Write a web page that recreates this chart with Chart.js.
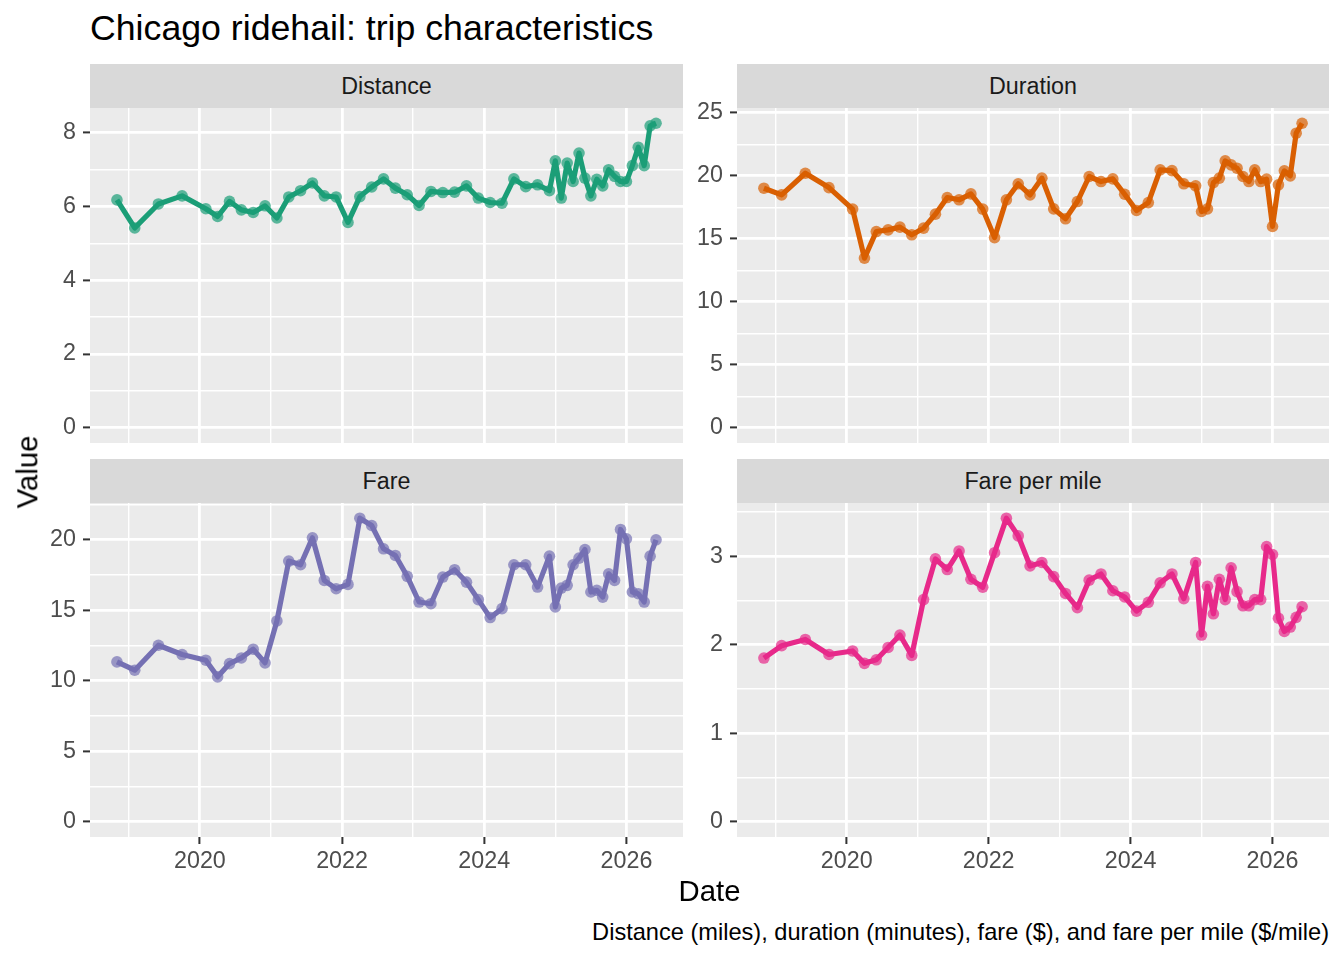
<!DOCTYPE html>
<html>
<head>
<meta charset="utf-8">
<title>Chicago ridehail: trip characteristics</title>
<script src="https://cdn.jsdelivr.net/npm/chart.js@4.4.1/dist/chart.umd.min.js"></script>
<style>
  html, body { margin: 0; padding: 0; background: #ffffff; }
  body { width: 1344px; height: 960px; position: relative; overflow: hidden;
         font-family: 'Liberation Sans', Arial, sans-serif; }
  .abs { position: absolute; }
  .strip { background: #D9D9D9; color: #1A1A1A; font-size: 23.3px; text-align: center;
           height: 44px; line-height: 44px; }
  .title { left: 90px; top: 11px; font-size: 35.7px; line-height: 35.7px; color: #000; white-space: nowrap; }
  .xtitle { left: 90px; width: 1239px; top: 876px; font-size: 29.3px; line-height: 29.3px; text-align: center; }
  .ytitle { left: 27px; top: 472px; font-size: 29.3px; line-height: 29.3px; white-space: nowrap;
            transform: translate(-50%, -50%) rotate(-90deg); }
  .caption { right: 15px; top: 921px; font-size: 23.6px; line-height: 23.6px; white-space: nowrap; }
</style>
</head>
<body>
<div class="abs title">Chicago ridehail: trip characteristics</div>

<div class="abs" style="left:30px; top:88px; width:653px; height:355px;"><canvas id="distanceChart"></canvas></div>
<div class="abs" style="left:677px; top:88px; width:652px; height:355px;"><canvas id="durationChart"></canvas></div>
<div class="abs" style="left:30px; top:483px; width:653px; height:399px;"><canvas id="fareChart"></canvas></div>
<div class="abs" style="left:677px; top:483px; width:652px; height:399px;"><canvas id="fpmChart"></canvas></div>

<div class="abs strip" id="strip0" style="left:90px; top:64px; width:593px;"></div>
<div class="abs strip" id="strip1" style="left:737px; top:64px; width:592px;"></div>
<div class="abs strip" id="strip2" style="left:90px; top:459px; width:593px;"></div>
<div class="abs strip" id="strip3" style="left:737px; top:459px; width:592px;"></div>

<div class="abs ytitle">Value</div>
<div class="abs xtitle">Date</div>
<div class="abs caption">Distance (miles), duration (minutes), fare ($), and fare per mile ($/mile)</div>

<script>
const months = [
  '2018-11', '2019-02', '2019-06', '2019-10',
  '2020-02', '2020-04', '2020-06', '2020-08', '2020-10', '2020-12',
  '2021-02', '2021-04', '2021-06', '2021-08', '2021-10', '2021-12',
  '2022-02', '2022-04', '2022-06', '2022-08', '2022-10', '2022-12',
  '2023-02', '2023-04', '2023-06', '2023-08', '2023-10', '2023-12',
  '2024-02', '2024-04', '2024-06', '2024-08', '2024-10', '2024-12',
  '2025-01', '2025-02', '2025-03', '2025-04', '2025-05', '2025-06',
  '2025-07', '2025-08', '2025-09', '2025-10', '2025-11', '2025-12',
  '2026-01', '2026-02', '2026-03', '2026-04', '2026-05', '2026-06'
];

const distance = [
  6.18, 5.42, 6.07, 6.29, 5.94, 5.73, 6.14, 5.91, 5.84, 6.02,
  5.69, 6.26, 6.43, 6.64, 6.29, 6.26, 5.57, 6.27, 6.53, 6.75,
  6.50, 6.32, 6.03, 6.41, 6.38, 6.39, 6.56, 6.23, 6.11, 6.09,
  6.75, 6.54, 6.59, 6.43, 7.24, 6.23, 7.18, 6.68, 7.45, 6.77,
  6.29, 6.74, 6.56, 7.00, 6.82, 6.68, 6.68, 7.11, 7.61, 7.11,
  8.19, 8.26
];

const duration = [
  19.02, 18.49, 20.21, 19.07, 17.36, 13.47, 15.58, 15.71, 15.93, 15.32,
  15.85, 16.96, 18.28, 18.10, 18.57, 17.36, 15.10, 18.10, 19.37, 18.49,
  19.82, 17.38, 16.59, 17.96, 19.95, 19.55, 19.76, 18.54, 17.25, 17.88,
  20.48, 20.42, 19.37, 19.21, 17.17, 17.38, 19.47, 19.82, 21.19, 20.87,
  20.61, 19.95, 19.55, 20.48, 19.55, 19.74, 15.98, 19.29, 20.40, 20.00,
  23.39, 24.18
];

const fare = [
  11.33, 10.74, 12.51, 11.85, 11.45, 10.27, 11.21, 11.61, 12.23, 11.26,
  14.23, 18.47, 18.21, 20.12, 17.10, 16.51, 16.82, 21.51, 20.99, 19.34,
  18.87, 17.39, 15.57, 15.45, 17.34, 17.86, 16.98, 15.74, 14.47, 15.10,
  18.21, 18.21, 16.63, 18.82, 15.22, 16.56, 16.75, 18.21, 18.68, 19.29,
  16.28, 16.40, 15.92, 17.57, 17.10, 20.71, 20.05, 16.28, 16.16, 15.57,
  18.82, 19.98
];

const farePerMile = [
  1.85, 1.99, 2.06, 1.89, 1.93, 1.79, 1.83, 1.97, 2.11, 1.88,
  2.51, 2.97, 2.85, 3.06, 2.74, 2.65, 3.04, 3.43, 3.23, 2.89,
  2.93, 2.77, 2.58, 2.42, 2.73, 2.80, 2.61, 2.54, 2.38, 2.48,
  2.70, 2.80, 2.52, 2.93, 2.11, 2.66, 2.35, 2.74, 2.51, 2.87,
  2.60, 2.44, 2.44, 2.51, 2.51, 3.11, 3.02, 2.30, 2.15, 2.20,
  2.31, 2.43
];

const xTickLabels = [2020, 2022, 2024, 2026];
const distanceTicks = [0, 2, 4, 6, 8];
const durationTicks = [0, 5, 10, 15, 20, 25];
const fareTicks = [0, 5, 10, 15, 20];
const farePerMileTicks = [0, 1, 2, 3];

const panelTitles = ['Distance', 'Duration', 'Fare', 'Fare per mile'];
const panelColors = ['#1B9E77', '#D95F02', '#7570B3', '#E7298A'];

Chart.defaults.font.family = "'Liberation Sans', Arial, sans-serif";

const toYear = (m) => {
  const [y, mo] = m.split('-').map(Number);
  return y + (mo - 1) / 12;
};

const xs = months.map(toYear);
const xPad = (xs[xs.length - 1] - xs[0]) * 0.05;
const xMin = xs[0] - xPad;
const xMax = xs[xs.length - 1] + xPad;

// majors plus the half-step minor breaks that fall inside the range
function withMinor(majors, lo, hi) {
  const step = majors[1] - majors[0];
  const out = [];
  for (let v = majors[0] - step / 2; v <= majors[majors.length - 1] + step / 2 + 1e-9; v += step / 2) {
    if (v >= lo && v <= hi) out.push(+v.toFixed(6));
  }
  return out;
}

const panelBackground = {
  id: 'panelBackground',
  beforeDraw(chart) {
    const { ctx, chartArea: a } = chart;
    ctx.save();
    ctx.fillStyle = '#EBEBEB';
    ctx.fillRect(a.left, a.top, a.right - a.left, a.bottom - a.top);
    ctx.restore();
  },
};

function hexAlpha(hex, a) {
  const n = parseInt(hex.slice(1), 16);
  return `rgba(${(n >> 16) & 255}, ${(n >> 8) & 255}, ${n & 255}, ${a})`;
}

function makePanel(canvasId, values, color, yMajors, showX) {
  const yMax = Math.max(...values) * 1.05;
  const yMin = -Math.max(...values) * 0.05;
  const yAll = withMinor(yMajors, yMin, yMax);
  const xAll = withMinor(xTickLabels, xMin, xMax);

  const isMajor = (list) => (ctx) => ctx.tick && list.includes(ctx.tick.value);
  const yMaj = isMajor(yMajors);
  const xMaj = isMajor(xTickLabels);

  const zeroPad = (scale) => {
    scale.paddingTop = 0;
    scale.paddingBottom = 0;
    scale.paddingLeft = 0;
    scale.paddingRight = 0;
  };

  return new Chart(document.getElementById(canvasId), {
    type: 'line',
    data: {
      datasets: [
        {
          data: xs.map((x, i) => ({ x, y: values[i] })),
          borderColor: color,
          borderWidth: 5.2,
          borderJoinStyle: 'round',
          tension: 0,
          pointRadius: 5.8,
          pointBorderWidth: 0,
          pointBackgroundColor: hexAlpha(color, 0.7),
          pointHoverRadius: 5.8,
        },
      ],
    },
    options: {
      responsive: true,
      maintainAspectRatio: false,
      animation: false,
      layout: { autoPadding: false, padding: { top: 20, right: 0, bottom: 0, left: 0 } },
      scales: {
        x: {
          type: 'linear',
          min: xMin,
          max: xMax,
          afterBuildTicks: (axis) => { axis.ticks = xAll.map((v) => ({ value: v })); },
          afterFit: (scale) => { scale.height = showX ? 45 : 0; zeroPad(scale); },
          border: { display: false },
          grid: {
            color: '#FFFFFF',
            lineWidth: (ctx) => (xMaj(ctx) ? 2.8 : 1.4),
            drawTicks: showX,
            tickLength: 7,
            tickWidth: 2,
            tickColor: (ctx) => (xMaj(ctx) ? '#333333' : 'rgba(0,0,0,0)'),
          },
          ticks: {
            display: showX,
            autoSkip: false,
            maxRotation: 0,
            padding: 4,
            color: '#4D4D4D',
            font: { size: 23.3 },
            callback: (v) => (xTickLabels.includes(v) ? String(v) : ''),
          },
        },
        y: {
          min: yMin,
          max: yMax,
          afterBuildTicks: (axis) => { axis.ticks = yAll.map((v) => ({ value: v })); },
          afterFit: (scale) => { scale.width = 60; zeroPad(scale); },
          border: { display: false },
          grid: {
            color: '#FFFFFF',
            lineWidth: (ctx) => (yMaj(ctx) ? 2.8 : 1.4),
            tickLength: 7,
            tickWidth: 2,
            tickColor: (ctx) => (yMaj(ctx) ? '#333333' : 'rgba(0,0,0,0)'),
          },
          ticks: {
            autoSkip: false,
            padding: 7,
            color: '#4D4D4D',
            font: { size: 23.3 },
            callback: (v) => (yMajors.includes(v) ? String(v) : ''),
          },
        },
      },
      plugins: {
        legend: { display: false },
        tooltip: { enabled: false },
      },
    },
    plugins: [panelBackground],
  });
}

panelTitles.forEach((t, i) => { document.getElementById('strip' + i).textContent = t; });

makePanel('distanceChart', distance, panelColors[0], distanceTicks, false);
makePanel('durationChart', duration, panelColors[1], durationTicks, false);
makePanel('fareChart', fare, panelColors[2], fareTicks, true);
makePanel('fpmChart', farePerMile, panelColors[3], farePerMileTicks, true);
</script>
</body>
</html>
